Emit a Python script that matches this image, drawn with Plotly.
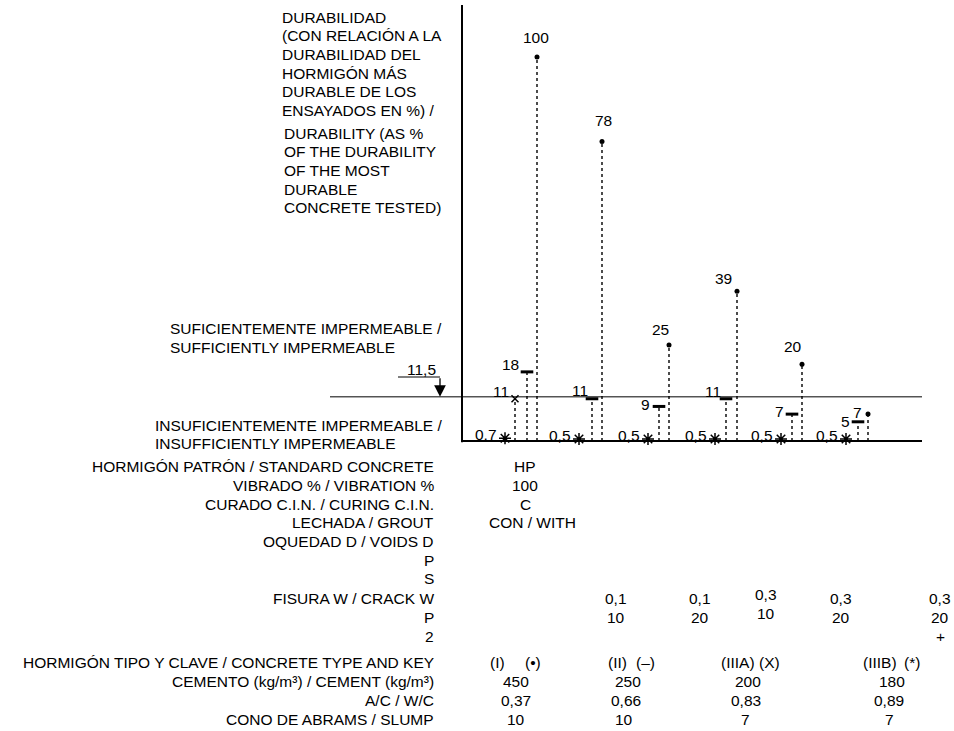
import plotly.graph_objects as go

# ---- data -------------------------------------------------------------
# durability of each concrete (% of the most durable one tested), six test series
dur_type_I = [100, 78, 25, 39, 20, 7]          # (I)   key: dot
dur_type_II = [18, 11, 9, 11, 7, 5]            # (II)  key: dash
dur_type_IIIA = [11, None, None, None, None, None]  # (IIIA) key: X
dur_type_IIIB = [0.7, 0.5, 0.5, 0.5, 0.5, 0.5]      # (IIIB) key: *
threshold = 11.5

lbl_I = ["100", "78", "25", "39", "20", "7"]
lbl_II = ["18", "11", "9", "11", "7", "5"]
lbl_IIIA = ["11", "", "", "", "", ""]
lbl_IIIB = ["0,7", "0,5", "0,5", "0,5", "0,5", "0,5"]

row_labels = [
    "HORMIGÓN PATRÓN / STANDARD CONCRETE",
    "VIBRADO % / VIBRATION %",
    "CURADO C.I.N. / CURING C.I.N.",
    "LECHADA / GROUT",
    "OQUEDAD D / VOIDS D",
    "P",
    "S",
    "FISURA W / CRACK W",
    "P",
    "2",
    "HORMIGÓN TIPO Y CLAVE / CONCRETE TYPE AND KEY",
    "CEMENTO (kg/m³) / CEMENT (kg/m³)",
    "A/C / W/C",
    "CONO DE ABRAMS / SLUMP",
]
standard_vals = ["HP", "100", "C", "CON / WITH"]
crack_w = ["0,1", "0,1", "0,3", "0,3", "0,3"]
crack_p = ["10", "20", "10", "20", "20"]
crack_2 = ["", "", "", "", "+"]
type_names = ["(I)", "(II)", "(IIIA)", "(IIIB)"]
type_keys = ["(•)", "(–)", "(X)", "(*)"]
cement = ["450", "250", "200", "180"]
wc_ratio = ["0,37", "0,66", "0,83", "0,89"]
slump = ["10", "10", "7", "7"]

title_es = ["DURABILIDAD", "(CON RELACIÓN A LA", "DURABILIDAD DEL",
            "HORMIGÓN MÁS", "DURABLE DE LOS", "ENSAYADOS EN %) /"]
title_en = ["DURABILITY (AS %", "OF THE DURABILITY", "OF THE MOST",
            "DURABLE", "CONCRETE TESTED)"]

# ---- layout helpers (positions on the drawing, in pixels) -------------
W, H = 954, 731
Y0_PX, PX_PER_UNIT = 441, 3.84          # value 0 sits at pixel row 441
FONT = "Liberation Sans"
FS = 15.5

x_IIIB = [505, 579, 648, 715, 781, 846]
x_IIIA = [515, None, None, None, None, None]
x_II = [527, 592, 659, 726, 792, 858]
x_I = [537, 602, 669, 737, 802, 868]

# label offsets (dx, dy up) in pixels
off_I = [(-1, 20), (1, 21), (-9, 16), (-14, 13), (-9, 18), (-11, 2)]
off_II = [(-6, 7), (-2, 8), (-7, 2), (-3, 7), (-6, 3), (-6, 0)]
off_IIIA = [(-4, 7)]
off_IIIB = (-6, 4)


def py(px):
    """pixel row -> paper fraction"""
    return 1 - px / H


fig = go.Figure()


def stems(xs, vals):
    sx, sy = [], []
    for x, v in zip(xs, vals):
        if v is None:
            continue
        sx += [x, x, None]
        sy += [0, v, None]
    return sx, sy


# dotted stems
for xs, vals in [(x_IIIA, dur_type_IIIA), (x_II, dur_type_II), (x_I, dur_type_I)]:
    sx, sy = stems(xs, vals)
    fig.add_trace(go.Scatter(x=sx, y=sy, mode="lines",
                             line=dict(color="black", width=1.4, dash="dot"),
                             hoverinfo="skip", showlegend=False))

# markers
fig.add_trace(go.Scatter(x=x_I, y=dur_type_I, mode="markers", name="(I)",
                         marker=dict(symbol="circle", size=5, color="black")))
fig.add_trace(go.Scatter(x=x_II, y=dur_type_II, mode="markers", name="(II)",
                         marker=dict(symbol="line-ew", size=9,
                                     line=dict(color="black", width=3))))
fig.add_trace(go.Scatter(x=[x for x in x_IIIA if x is not None],
                         y=[v for v in dur_type_IIIA if v is not None],
                         mode="markers", name="(IIIA)",
                         marker=dict(symbol="x-thin", size=7,
                                     line=dict(color="black", width=1.5))))
fig.add_trace(go.Scatter(x=x_IIIB, y=dur_type_IIIB, mode="markers", name="(IIIB)",
                         marker=dict(symbol="asterisk", size=10,
                                     line=dict(color="black", width=1.5))))

ann = []
txt = dict(family=FONT, size=FS, color="black")

for x, v, t, (dx, dy) in zip(x_I, dur_type_I, lbl_I, off_I):
    ann.append(dict(x=x, y=v, xref="x", yref="y", text=t, showarrow=False,
                    xanchor="center", yanchor="middle", xshift=dx, yshift=dy, font=txt))
for x, v, t, (dx, dy) in zip(x_II, dur_type_II, lbl_II, off_II):
    ann.append(dict(x=x, y=v, xref="x", yref="y", text=t, showarrow=False,
                    xanchor="right", yanchor="middle", xshift=dx, yshift=dy, font=txt))
for x, v, t, (dx, dy) in zip([x_IIIA[0]], [dur_type_IIIA[0]], [lbl_IIIA[0]], off_IIIA):
    ann.append(dict(x=x, y=v, xref="x", yref="y", text=t, showarrow=False,
                    xanchor="right", yanchor="middle", xshift=dx, yshift=dy, font=txt))
for x, v, t in zip(x_IIIB, dur_type_IIIB, lbl_IIIB):
    ann.append(dict(x=x, y=v, xref="x", yref="y", text=t, showarrow=False,
                    xanchor="right", yanchor="middle", xshift=off_IIIB[0],
                    yshift=off_IIIB[1], font=txt))

# vertical title block
for i, line in enumerate(title_es):
    ann.append(dict(x=280, y=py(17 + 18.7 * i), xref="x", yref="paper", text=line,
                    showarrow=False, xanchor="left", yanchor="middle", font=txt))
for i, line in enumerate(title_en):
    ann.append(dict(x=282, y=py(133 + 18.7 * i), xref="x", yref="paper", text=line,
                    showarrow=False, xanchor="left", yanchor="middle", font=txt))

# permeability zones
for text, px in [("SUFICIENTEMENTE IMPERMEABLE /", 328), ("SUFFICIENTLY IMPERMEABLE", 347)]:
    ann.append(dict(x=168, y=py(px), xref="x", yref="paper", text=text, showarrow=False,
                    xanchor="left", yanchor="middle", font=txt))
for text, px in [("INSUFICIENTEMENTE IMPERMEABLE /", 425), ("INSUFFICIENTLY IMPERMEABLE", 443)]:
    ann.append(dict(x=153, y=py(px), xref="x", yref="paper", text=text, showarrow=False,
                    xanchor="left", yanchor="middle", font=txt))

# threshold label and arrow
ann.append(dict(x=421, y=py(369), xref="x", yref="paper", text="11,5", showarrow=False,
                xanchor="center", yanchor="middle", font=txt))
ann.append(dict(x=440, y=threshold, xref="x", yref="y", ax=0, ay=-20,
                axref="pixel", ayref="pixel", text="", showarrow=True, arrowhead=2,
                arrowsize=1.8, arrowwidth=1.3, arrowcolor="black", standoff=0))

# table rows
row_px = [466, 485, 504, 522, 541, 560, 578, 598, 617, 636, 662, 681, 700, 719]
for lab, px in zip(row_labels, row_px):
    ann.append(dict(x=436, y=py(px), xref="x", yref="paper", text=lab, showarrow=False,
                    xanchor="right", yanchor="middle", font=txt))

std_x = [525, 525, 525, 532]
for v, x, px in zip(standard_vals, std_x, row_px[:4]):
    ann.append(dict(x=x, y=py(px), xref="x", yref="paper", text=v, showarrow=False,
                    xanchor="center", yanchor="middle", font=txt))

crack_x = [616, 700, 766, 841, 940]
crack_dy = [0, 0, -4, 0, 0]
for row, px in [(crack_w, row_px[7]), (crack_p, row_px[8]), (crack_2, row_px[9])]:
    for v, x, d in zip(row, crack_x, crack_dy):
        if v:
            ann.append(dict(x=x, y=py(px + d), xref="x", yref="paper", text=v,
                            showarrow=False, xanchor="center", yanchor="middle", font=txt))

name_x = [497, 617, 738, 880]
key_x = [533, 645, 769, 912]
for n, k, xn, xk in zip(type_names, type_keys, name_x, key_x):
    ann.append(dict(x=xn, y=py(row_px[10]), xref="x", yref="paper", text=n,
                    showarrow=False, xanchor="center", yanchor="middle", font=txt))
    ann.append(dict(x=xk, y=py(row_px[10]), xref="x", yref="paper", text=k,
                    showarrow=False, xanchor="center", yanchor="middle", font=txt))

for row, xs, px in [(cement, [516, 628, 748, 892], row_px[11]),
                    (wc_ratio, [516, 626, 746, 889], row_px[12]),
                    (slump, [516, 624, 745, 889], row_px[13])]:
    for v, x in zip(row, xs):
        ann.append(dict(x=x, y=py(px), xref="x", yref="paper", text=v, showarrow=False,
                        xanchor="center", yanchor="middle", font=txt))

# axis frame, baseline and threshold line
top_val = (Y0_PX - 5) / PX_PER_UNIT
shapes = [
    dict(type="line", x0=462, x1=462, y0=-0.3, y1=top_val, xref="x", yref="y",
         line=dict(color="black", width=2)),
    dict(type="line", x0=462, x1=922, y0=0, y1=0, xref="x", yref="y",
         line=dict(color="black", width=2)),
    dict(type="line", x0=330, x1=922, y0=threshold, y1=threshold, xref="x", yref="y",
         line=dict(color="black", width=1)),
    dict(type="line", x0=398, x1=440, y0=py(377), y1=py(377), xref="x", yref="paper",
         line=dict(color="black", width=1.2)),
]

fig.update_layout(
    width=W, height=H,
    margin=dict(l=0, r=0, t=0, b=0),
    paper_bgcolor="white", plot_bgcolor="white",
    showlegend=False,
    xaxis=dict(range=[0, W], domain=[0, 1], visible=False, fixedrange=True),
    yaxis=dict(range=[-(H - Y0_PX) / PX_PER_UNIT, Y0_PX / PX_PER_UNIT], domain=[0, 1],
               visible=False, fixedrange=True),
    annotations=ann, shapes=shapes,
    font=txt,
)

fig.write_html("out.html")
